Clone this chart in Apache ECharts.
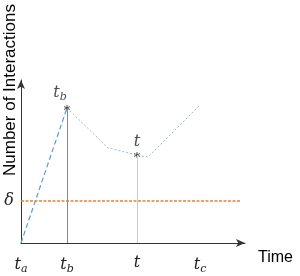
<!DOCTYPE html>
<html>
<head>
<meta charset="utf-8">
<script src="https://cdn.jsdelivr.net/npm/echarts@6/dist/echarts.min.js"></script>
<style>
html, body { margin: 0; padding: 0; background: #fff; }
#main { width: 300px; height: 276px; }
</style>
</head>
<body>
<div id="main"></div>
<script>
// time marks on the x axis
var tickValues = [0, 46, 116, 179];
var tickNames = ['a', 'b', '', 'c'];
// interaction curve (time, interactions)
var riseData = [[0, 0], [46, 135]];
var decayData = [[46, 135], [87, 95], [116, 88], [127, 86], [179, 138]];
var starData = [[46, 135, 'b'], [116, 88, '']];
var delta = 42;

var chart = echarts.init(document.getElementById('main'));

var mathRich = {
	t: { fontFamily: 'DejaVu Serif', fontStyle: 'italic', fontSize: 16, color: '#222' },
	s: { fontFamily: 'DejaVu Serif', fontStyle: 'italic', fontSize: 11, color: '#222', padding: [9, 0, 0, 0] }
};

function tLabel(sub) {
	return sub ? '{t|t}{s|' + sub + '}' : '{t|t}';
}

var asterisk = 'path://M5,0L5,10M0.7,2.5L9.3,7.5M0.7,7.5L9.3,2.5';

var option = {
	animation: false,
	grid: { left: 21, top: 80, width: 224, height: 163 },
	xAxis: {
		type: 'value',
		min: 0,
		max: 224,
		name: 'Time',
		nameLocation: 'end',
		nameGap: 13,
		nameTextStyle: { fontFamily: 'Liberation Sans', fontSize: 16, color: '#000', verticalAlign: 'top', padding: [7, 0, 0, 0] },
		axisLine: { show: true, symbol: ['none', 'arrow'], symbolSize: [6, 9], lineStyle: { color: '#333', width: 1 } },
		axisTick: { show: false },
		splitLine: { show: false },
		axisLabel: {
			customValues: tickValues,
			margin: 12,
			formatter: function (v) {
				return tLabel(tickNames[tickValues.indexOf(v)]);
			},
			rich: mathRich
		}
	},
	yAxis: {
		type: 'value',
		min: 0,
		max: 163,
		axisLine: { show: true, symbol: ['none', 'arrow'], symbolSize: [6, 9], lineStyle: { color: '#333', width: 1 } },
		axisTick: { show: false },
		splitLine: { show: false },
		axisLabel: {
			customValues: [delta],
			margin: 7,
			fontFamily: 'DejaVu Serif',
			fontStyle: 'italic',
			fontSize: 16,
			color: '#222',
			formatter: function () { return 'δ'; }
		}
	},
	graphic: [{
		type: 'text',
		x: 2,
		y: 90,
		rotation: Math.PI / 2,
		style: {
			text: 'Number of Interactions',
			font: '17px "Liberation Sans"',
			fill: '#000',
			align: 'center',
			verticalAlign: 'top'
		}
	}],
	series: [{
		type: 'line',
		data: riseData,
		symbol: 'none',
		lineStyle: { color: '#5b9bd5', width: 1.2, type: [5, 3] },
		markLine: {
			silent: true,
			symbol: 'none',
			label: { show: false },
			lineStyle: { type: 'solid', width: 1, color: '#888' },
			data: [[{ coord: [46, 0] }, { coord: [46, 135] }]]
		}
	}, {
		type: 'line',
		data: decayData,
		symbol: 'none',
		lineStyle: { color: '#9dbbd6', width: 1, type: [2, 2] },
		markLine: {
			silent: true,
			symbol: 'none',
			label: { show: false },
			lineStyle: { type: 'solid', width: 1, color: '#ccc' },
			data: [[{ coord: [116, 0] }, { coord: [116, 88] }]]
		}
	}, {
		type: 'line',
		data: [[0, delta], [219, delta]],
		symbol: 'none',
		lineStyle: { color: '#ed7d31', width: 1.5, type: [3, 1.5] }
	}, {
		type: 'scatter',
		data: starData,
		symbol: asterisk,
		symbolSize: 6,
		itemStyle: { color: 'transparent', borderColor: '#222', borderWidth: 1 },
		label: {
			show: true,
			position: 'top',
			distance: 2,
			formatter: function (p) { return tLabel(p.value[2]); },
			rich: mathRich
		},
		labelLayout: function (params) {
			// t_b sits up and to the left of its star
			if (params.dataIndex === 0) {
				return { dx: -7 };
			}
			return {};
		}
	}]
};
chart.setOption(option);
</script>
</body>
</html>
